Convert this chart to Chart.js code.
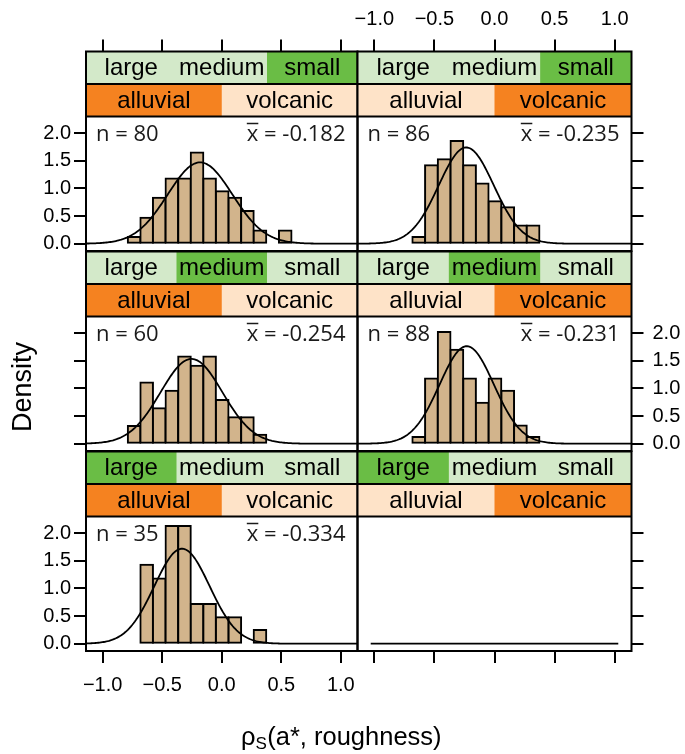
<!DOCTYPE html>
<html>
<head>
<meta charset="utf-8">
<script src="https://cdn.jsdelivr.net/npm/chart.js@4.4.0/dist/chart.umd.min.js"></script>
<style>
html,body{margin:0;padding:0;background:#fff;}
#wrap{position:relative;width:685px;height:754px;overflow:hidden;background:#fff;}
#wrap canvas{position:absolute;left:0;top:0;}
</style>
</head>
<body>
<div id="wrap"></div>
<script>
// ---------------- DATA ----------------
const sizeLevels = ['large', 'medium', 'small'];
const soilLevels = ['alluvial', 'volcanic'];

// panels in reading order: row 1 (small), row 2 (medium), row 3 (large)
const panelSize = ['small', 'small', 'medium', 'medium', 'large', 'large'];
const panelSoil = ['alluvial', 'volcanic', 'alluvial', 'volcanic', 'alluvial', 'volcanic'];
const panelN    = [80, 86, 60, 88, 35, null];
const panelMean = [-0.182, -0.235, -0.254, -0.231, -0.334, null];
const panelSd   = [0.271, 0.229, 0.260, 0.226, 0.232, null];

// histogram bin edges (shared by all panels)
const binEdges = [-0.789, -0.683, -0.578, -0.472, -0.366, -0.260, -0.155, -0.049, 0.057, 0.163, 0.268, 0.374, 0.480, 0.586];

// densities per bin (null = empty bin)
const densSmallAlluvial  = [0.12, 0.47, 0.83, 1.18, 1.18, 1.65, 1.18, 0.95, 0.83, 0.59, 0.24, null, 0.24];
const densSmallVolcanic  = [null, 0.12, 1.42, 1.53, 1.86, 1.42, 1.09, 0.77, 0.66, 0.33, 0.33, null, null];
const densMediumAlluvial = [0.32, 1.11, 0.64, 0.96, 1.58, 1.41, 1.58, 0.79, 0.48, 0.48, 0.16, null, null];
const densMediumVolcanic = [null, 0.12, 1.18, 2.02, 1.70, 1.18, 0.74, 1.18, 0.96, 0.33, 0.12, null, null];
const densLargeAlluvial  = [null, 1.43, 1.18, 2.13, 2.13, 0.72, 0.72, 0.48, 0.48, null, 0.25, null, null];
const densLargeVolcanic  = null; // empty panel
const emptyPanelLineX = [-1.03, 1.03];

const xTickValues = [-1, -0.5, 0, 0.5, 1];
const xTickLabels = ['\u22121.0', '\u22120.5', '0.0', '0.5', '1.0'];
const yTickValues = [0, 0.5, 1, 1.5, 2];
const yTickLabels = ['0.0', '0.5', '1.0', '1.5', '2.0'];

const xTitleMain = 'ρ';
const xTitleSub = 'S';
const xTitleRest = '(a*, roughness)';
const yTitle = 'Density';

// ---------------- STYLE / LAYOUT ----------------
const W = 685, H = 754;
const colL = [86, 357.5], colR = [357.5, 631.5];
const rowTop = [51.5, 251.5, 451.5];
const stripH = 32.5, rowH = 199.5;
const yPxPerUnit = 55.25;
const yMin = -0.132, yMax = yMin + rowH / yPxPerUnit;
const xMin = -1.14, xMax = 1.14;
const LEFT_AXIS_W = 60, RIGHT_AXIS_W = 52, TOP_AXIS_H = 51.5, BOTTOM_AXIS_H = 62;

const lightGreen = '#d3e9c9', darkGreen = '#6abd45';
const peach = '#fee3c8', orange = '#f58220';
const barFill = '#d2b48c';
const FONT = '"Liberation Sans", Arial, Helvetica, sans-serif';
const tickFont = { family: FONT, size: 20 };

Chart.defaults.font.family = FONT;
Chart.defaults.color = '#000';
Chart.defaults.animation = false;

const panelDensities = [densSmallAlluvial, densSmallVolcanic, densMediumAlluvial, densMediumVolcanic, densLargeAlluvial, densLargeVolcanic];
const binCenters = binEdges.slice(0, -1).map((e, i) => (e + binEdges[i + 1]) / 2);

function dnorm(x, m, s) { return Math.exp(-0.5 * ((x - m) / s) ** 2) / (s * Math.sqrt(2 * Math.PI)); }

function makeDecor(p, isLast) {
  return {
    id: 'decor' + p,
    beforeDatasetsDraw(chart) {
      const { ctx, chartArea: a } = chart;
      const L = a.left, w = a.right - a.left, T = a.top;
      ctx.save();
      ctx.fillStyle = lightGreen; ctx.fillRect(L, T, w, stripH);
      const si = sizeLevels.indexOf(panelSize[p]);
      ctx.fillStyle = darkGreen; ctx.fillRect(L + w * si / 3, T, w / 3, stripH);
      ctx.fillStyle = peach; ctx.fillRect(L, T + stripH, w, stripH);
      const oi = soilLevels.indexOf(panelSoil[p]);
      ctx.fillStyle = orange; ctx.fillRect(L + w * oi / 2, T + stripH, w / 2, stripH);
      ctx.restore();
    },
    afterDatasetsDraw(chart) {
      const { ctx, chartArea: a } = chart;
      const L = a.left, R = a.right, w = R - L, T = a.top, B = a.bottom;
      ctx.save();
      // strip texts
      ctx.fillStyle = '#000';
      ctx.font = '24px ' + FONT;
      ctx.textAlign = 'center';
      ctx.textBaseline = 'middle';
      sizeLevels.forEach((s, i) => ctx.fillText(s, L + w * (2 * i + 1) / 6, T + stripH / 2 + 1));
      soilLevels.forEach((s, i) => ctx.fillText(s, L + w * (2 * i + 1) / 4, T + stripH * 1.5 + 1));
      // borders
      ctx.strokeStyle = '#000';
      ctx.lineWidth = 2;
      ctx.strokeRect(L, T, w, B - T);
      ctx.beginPath();
      ctx.moveTo(L, T + stripH); ctx.lineTo(R, T + stripH);
      ctx.moveTo(L, T + 2 * stripH); ctx.lineTo(R, T + 2 * stripH);
      ctx.stroke();
      // annotations
      if (panelN[p] !== null) {
        const yc = T + 2 * stripH + 18;
        ctx.font = '22px "Open Sans", ' + FONT;
        ctx.fillStyle = '#1a1a1a';
        ctx.textBaseline = 'middle';
        ctx.textAlign = 'left';
        ctx.fillText('n = ' + panelN[p], L + 10, yc);
        const rest = ' = ' + panelMean[p].toFixed(3);
        const wr = ctx.measureText(rest).width;
        const wx = ctx.measureText('x').width;
        const xr = R - 12;
        ctx.fillText(rest, xr - wr, yc);
        ctx.fillText('x', xr - wr - wx, yc);
        ctx.lineWidth = 1.5;
        ctx.strokeStyle = '#1a1a1a';
        ctx.beginPath();
        ctx.moveTo(xr - wr - wx, yc - 11);
        ctx.lineTo(xr - wr, yc - 11);
        ctx.stroke();
      }
      if (isLast) {
        // axis titles
        ctx.fillStyle = '#000';
        ctx.font = '27px ' + FONT;
        ctx.save();
        ctx.translate(24, 387);
        ctx.rotate(-Math.PI / 2);
        ctx.textAlign = 'center';
        ctx.textBaseline = 'middle';
        ctx.fillText(yTitle, 0, 0);
        ctx.restore();
        const mainF = '25.5px ' + FONT, subF = '17px ' + FONT;
        ctx.font = mainF; const w1 = ctx.measureText(xTitleMain).width; const w3 = ctx.measureText(xTitleRest).width;
        ctx.font = subF; const w2 = ctx.measureText(xTitleSub).width;
        let x0 = 341 - (w1 + w2 + w3) / 2;
        const base = 745;
        ctx.textAlign = 'left';
        ctx.textBaseline = 'alphabetic';
        ctx.font = mainF; ctx.fillText(xTitleMain, x0, base);
        ctx.font = subF; ctx.fillText(xTitleSub, x0 + w1, base + 4);
        ctx.font = mainF; ctx.fillText(xTitleRest, x0 + w1 + w2 + 0.5, base);
      }
      ctx.restore();
    }
  };
}

const wrap = document.getElementById('wrap');

for (let p = 0; p < 6; p++) {
  const r = Math.floor(p / 2), c = p % 2;
  const cv = document.createElement('canvas');
  cv.width = W; cv.height = H;
  cv.style.width = W + 'px'; cv.style.height = H + 'px';
  wrap.appendChild(cv);

  const datasets = [];
  const dens = panelDensities[p];
  if (dens) {
    datasets.push({
      type: 'bar',
      data: binCenters.map((x, i) => ({ x: x, y: dens[i] })).filter(d => d.y !== null),
      backgroundColor: barFill,
      borderColor: '#000',
      borderWidth: 2,
      inflateAmount: 1,
      borderSkipped: false,
      barPercentage: 1,
      categoryPercentage: 1,
      order: 2
    });
    const curve = [];
    for (let k = 0; k <= 200; k++) {
      const x = xMin + (xMax - xMin) * k / 200;
      curve.push({ x: x, y: dnorm(x, panelMean[p], panelSd[p]) });
    }
    datasets.push({
      type: 'line', data: curve, borderColor: '#000', borderWidth: 1.8,
      pointRadius: 0, fill: false, tension: 0, order: 1
    });
  } else {
    datasets.push({
      type: 'line', data: emptyPanelLineX.map(x => ({ x: x, y: 0 })),
      borderColor: '#000', borderWidth: 1.8, pointRadius: 0, fill: false
    });
  }

  const gridOpts = { drawOnChartArea: false, drawTicks: true, tickLength: 12, tickWidth: 2, tickColor: '#000', offset: false, lineWidth: 2, color: '#000' };

  const scales = {
    x: {
      type: 'linear', min: xMin, max: xMax, offset: false, position: 'bottom',
      display: r === 2,
      afterBuildTicks: s => { s.ticks = xTickValues.map(v => ({ value: v })); },
      afterFit: s => { s.height = r === 2 ? BOTTOM_AXIS_H : 0; },
      ticks: { display: c === 0, maxRotation: 0, minRotation: 0, autoSkip: false, padding: 10, font: tickFont, color: '#000',
               callback: (v, i) => xTickLabels[i] },
      grid: gridOpts,
      border: { display: false }
    },
    y: {
      type: 'linear', min: yMin, max: yMax, position: c === 0 ? 'left' : 'right',
      afterBuildTicks: s => { s.ticks = yTickValues.map(v => ({ value: v })); },
      afterFit: s => { s.width = c === 0 ? LEFT_AXIS_W : RIGHT_AXIS_W; },
      ticks: { display: c === 0 ? r !== 1 : r === 1, padding: c === 0 ? 3 : 9, font: tickFont, color: '#000', autoSkip: false,
               callback: (v, i) => yTickLabels[i] },
      grid: gridOpts,
      border: { display: false }
    }
  };
  if (r === 0) {
    scales.x2 = {
      type: 'linear', axis: 'x', min: xMin, max: xMax, offset: false, position: 'top',
      afterBuildTicks: s => { s.ticks = xTickValues.map(v => ({ value: v })); },
      afterFit: s => { s.height = TOP_AXIS_H; },
      ticks: { display: c === 1, maxRotation: 0, minRotation: 0, autoSkip: false, padding: 8, font: tickFont, color: '#000',
               callback: (v, i) => xTickLabels[i] },
      grid: gridOpts,
      border: { display: false }
    };
  }

  const padding = {
    left: c === 0 ? colL[0] - LEFT_AXIS_W : colL[1],
    right: c === 1 ? W - colR[1] - RIGHT_AXIS_W : W - colR[0],
    top: r === 0 ? rowTop[0] - TOP_AXIS_H : rowTop[r],
    bottom: r === 2 ? H - (rowTop[2] + rowH) - BOTTOM_AXIS_H : H - (rowTop[r] + rowH)
  };

  new Chart(cv, {
    type: 'bar',
    data: { datasets: datasets },
    options: {
      responsive: false,
      devicePixelRatio: 1,
      animation: false,
      layout: { padding: padding, autoPadding: false },
      plugins: { legend: { display: false }, tooltip: { enabled: false }, title: { display: false } },
      scales: scales,
      events: []
    },
    plugins: [makeDecor(p, p === 5)]
  });
}
</script>
</body>
</html>
